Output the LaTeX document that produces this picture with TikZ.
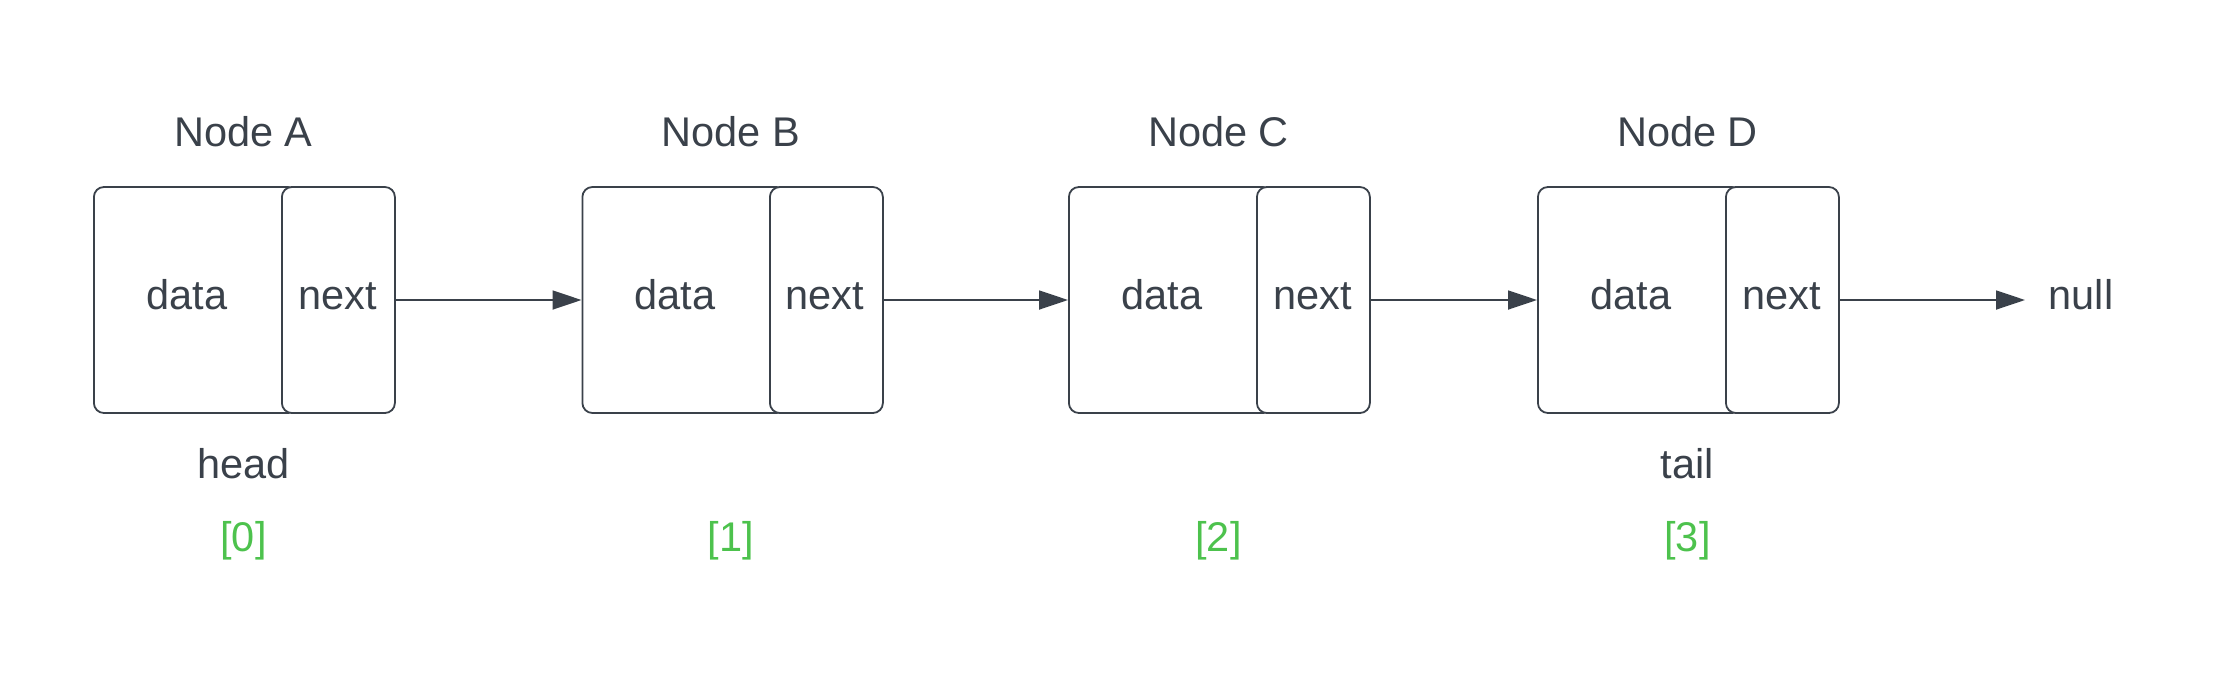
\documentclass[tikz,border=0pt]{standalone}
\usepackage{fontspec}
\setmainfont{Liberation Sans}
\usetikzlibrary{arrows.meta}
\definecolor{ink}{HTML}{3A414A}
\definecolor{idx}{HTML}{4DC24D}
\tikzset{
  cellbox/.style={draw=ink, line width=1.8pt, rounded corners=10pt, fill=white,
    minimum height=226pt, inner sep=0pt, anchor=west},
  txt/.style={text=ink, font=\fontsize{41.5}{49}\selectfont, anchor=base, inner sep=0pt},
  idxtxt/.style={text=idx, font=\fontsize{41.5}{49}\selectfont, anchor=base, inner sep=0pt},
  link/.style={draw=ink, line width=1.8pt, -{Triangle[length=29pt,width=19pt]}}
}
\begin{document}
\begin{tikzpicture}[x=1pt,y=-1pt]
\useasboundingbox (0,0) rectangle (2213,675);
% Node A
\node[cellbox, minimum width=204pt] (dA) at (93,300) {};
\node[cellbox, minimum width=113pt] (nA) at (281,300) {};
\node[txt] (tdA) at (187,309) {data};
\node[txt] (tnA) at (337.5,309) {next};
\node[txt] (lA) at (243.5,146) {Node A};
\node[txt] (hA) at (243.5,478) {head};
\node[idxtxt] (iA) at (243.5,551) {[0]};
% Node B
\node[cellbox, minimum width=204pt] (dB) at (581.5,300) {};
\node[cellbox, minimum width=113pt] (nB) at (769,300) {};
\node[txt] (tdB) at (675,309) {data};
\node[txt] (tnB) at (825,309) {next};
\node[txt] (lB) at (731,146) {Node B};
\node[idxtxt] (iB) at (731,551) {[1]};
% Node C
\node[cellbox, minimum width=204pt] (dC) at (1068,300) {};
\node[cellbox, minimum width=113pt] (nC) at (1256,300) {};
\node[txt] (tdC) at (1162,309) {data};
\node[txt] (tnC) at (1312.5,309) {next};
\node[txt] (lC) at (1218.5,146) {Node C};
\node[idxtxt] (iC) at (1218.5,551) {[2]};
% Node D
\node[cellbox, minimum width=204pt] (dD) at (1537,300) {};
\node[cellbox, minimum width=113pt] (nD) at (1725,300) {};
\node[txt] (tdD) at (1631,309) {data};
\node[txt] (tnD) at (1781.5,309) {next};
\node[txt] (lD) at (1687.5,146) {Node D};
\node[txt] (tD) at (1687.5,478) {tail};
\node[idxtxt] (iD) at (1687.5,551) {[3]};
% null
\node[txt] (nul) at (2081,309) {null};
\coordinate (nullend) at (2025,300);
% links
\draw[link] (nA.east) -- (dB.west);
\draw[link] (nB.east) -- (dC.west);
\draw[link] (nC.east) -- (dD.west);
\draw[link] (nD.east) -- (nullend);
\end{tikzpicture}
\end{document}
